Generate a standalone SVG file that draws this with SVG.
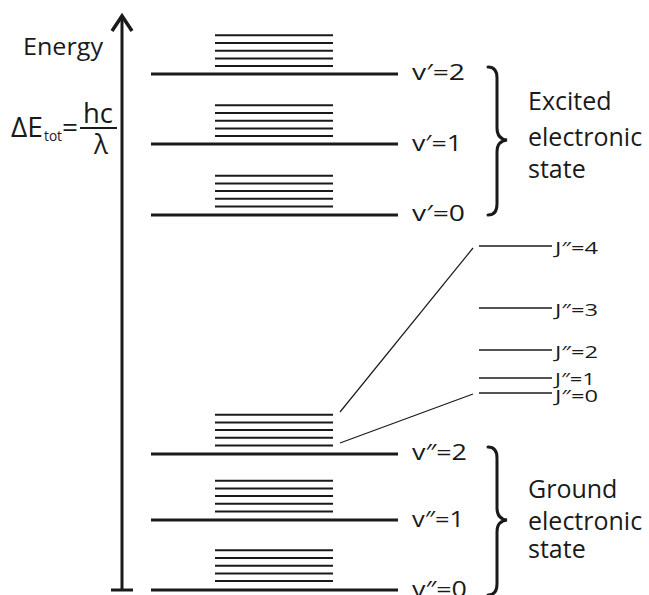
<svg xmlns="http://www.w3.org/2000/svg" width="649" height="595" viewBox="0 0 649 595">
<style>
.main{stroke:#1a1a1a;stroke-width:3;fill:none}
.sub{stroke:#1a1a1a;stroke-width:2;fill:none}
.rot{stroke:#1a1a1a;stroke-width:1.6;fill:none}
.conn{stroke:#1a1a1a;stroke-width:1.2;fill:none}
.brace{stroke:#1a1a1a;stroke-width:3;fill:none;stroke-linecap:round}
text{font-family:"Open Sans","Liberation Sans",sans-serif;fill:#1a1a1a}
.lv{font-size:21px}
.st{font-size:25px}
.j{font-size:17px}
</style>
<defs>
<g id="stack">
<line class="sub" x1="215" y1="0" x2="333" y2="0"/>
<line class="sub" x1="215" y1="7.7" x2="333" y2="7.7"/>
<line class="sub" x1="215" y1="15.4" x2="333" y2="15.4"/>
<line class="sub" x1="215" y1="23.1" x2="333" y2="23.1"/>
<line class="sub" x1="215" y1="30.8" x2="333" y2="30.8"/>
</g>
</defs>
<g id="axis">
<line x1="122" y1="17" x2="122" y2="590" stroke="#1a1a1a" stroke-width="3"/>
<polyline points="112,31 122,16 132,31" fill="none" stroke="#1a1a1a" stroke-width="3.5"/>
<line x1="111" y1="590" x2="133" y2="590" stroke="#1a1a1a" stroke-width="3"/>
<text x="23" y="55" font-size="24" textLength="80" lengthAdjust="spacingAndGlyphs">Energy</text>
<text x="11" y="137" font-size="28" textLength="32" lengthAdjust="spacingAndGlyphs">ΔE</text>
<text x="44" y="141" font-size="14" textLength="18" lengthAdjust="spacingAndGlyphs">tot</text>
<text x="62" y="137" font-size="28" textLength="16" lengthAdjust="spacingAndGlyphs">=</text>
<text x="83" y="123" font-size="28" textLength="30" lengthAdjust="spacingAndGlyphs">hc</text>
<line x1="80" y1="128" x2="117" y2="128" stroke="#1a1a1a" stroke-width="2"/>
<text x="94" y="154" font-size="28" textLength="14" lengthAdjust="spacingAndGlyphs">λ</text>
</g>
<g id="v1_2">
<use href="#stack" y="35.3"/>
<line class="main" x1="151" y1="74" x2="398" y2="74"/>
<text class="lv" x="412" y="80" textLength="53" lengthAdjust="spacingAndGlyphs">v′=2</text>
</g>
<g id="v1_1">
<use href="#stack" y="105.3"/>
<line class="main" x1="151" y1="144" x2="398" y2="144"/>
<text class="lv" x="412" y="151" textLength="50" lengthAdjust="spacingAndGlyphs">v′=1</text>
</g>
<g id="v1_0">
<use href="#stack" y="175.7"/>
<line class="main" x1="151" y1="215" x2="398" y2="215"/>
<text class="lv" x="412" y="221" textLength="53" lengthAdjust="spacingAndGlyphs">v′=0</text>
</g>
<g id="excited">
<path class="brace" d="M488,67 Q497,67 497,78 L497,128 Q497,139 507,140 Q497,141 497,152 L497,204 Q497,215 488,215"/>
<text class="st" x="528" y="110">Excited</text>
<text class="st" x="528" y="146">electronic</text>
<text class="st" x="528" y="178">state</text>
</g>
<g id="v2_2">
<use href="#stack" y="414.7"/>
<line class="main" x1="151" y1="454" x2="398" y2="454"/>
<text class="lv" x="412" y="460" textLength="55" lengthAdjust="spacingAndGlyphs">v″=2</text>
</g>
<g id="v2_1">
<use href="#stack" y="480.7"/>
<line class="main" x1="151" y1="520" x2="398" y2="520"/>
<text class="lv" x="412" y="527" textLength="52" lengthAdjust="spacingAndGlyphs">v″=1</text>
</g>
<g id="v2_0">
<use href="#stack" y="550.3"/>
<line class="main" x1="151" y1="590" x2="398" y2="590"/>
<text class="lv" x="412" y="597" textLength="55" lengthAdjust="spacingAndGlyphs">v″=0</text>
</g>
<g id="ground">
<path class="brace" d="M488,447 Q497,447 497,458 L497,508 Q497,519 507,520 Q497,521 497,532 L497,584 Q497,595 488,595"/>
<text class="st" x="528" y="498">Ground</text>
<text class="st" x="528" y="530">electronic</text>
<text class="st" x="528" y="558">state</text>
</g>
<g id="J4"><line class="rot" x1="479" y1="246" x2="552" y2="246"/><text class="j" x="555" y="254" textLength="43" lengthAdjust="spacingAndGlyphs">J″=4</text></g>
<g id="J3"><line class="rot" x1="479" y1="308" x2="552" y2="308"/><text class="j" x="555" y="316" textLength="43" lengthAdjust="spacingAndGlyphs">J″=3</text></g>
<g id="J2"><line class="rot" x1="479" y1="350" x2="552" y2="350"/><text class="j" x="555" y="358" textLength="43" lengthAdjust="spacingAndGlyphs">J″=2</text></g>
<g id="J1"><line class="rot" x1="479" y1="378" x2="552" y2="378"/><text class="j" x="555" y="385" textLength="40" lengthAdjust="spacingAndGlyphs">J″=1</text></g>
<g id="J0"><line class="rot" x1="479" y1="393" x2="552" y2="393"/><text class="j" x="555" y="402" textLength="43" lengthAdjust="spacingAndGlyphs">J″=0</text></g>
<g id="connectors">
<line class="conn" x1="340" y1="412" x2="473" y2="248"/>
<line class="conn" x1="340" y1="443" x2="473" y2="394"/>
</g>
</svg>
